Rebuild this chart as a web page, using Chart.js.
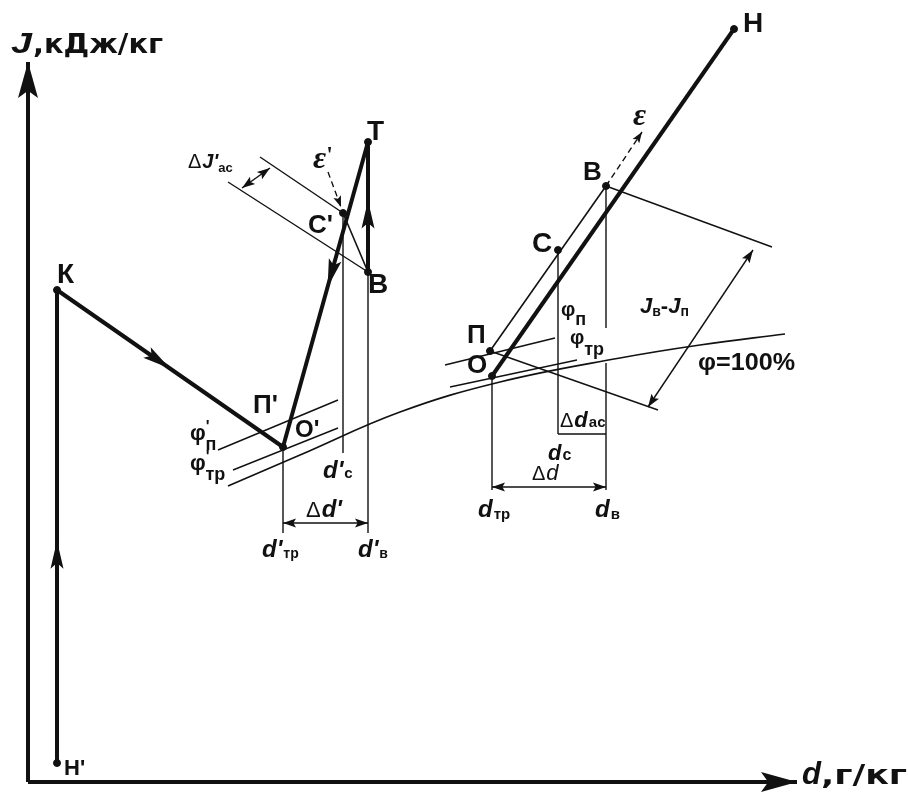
<!DOCTYPE html>
<html>
<head>
<meta charset="utf-8">
<script src="https://cdn.jsdelivr.net/npm/chart.js@4.4.0/dist/chart.umd.min.js"></script>
<style>
html, body { margin: 0; padding: 0; background: #fff; }
#wrap { width: 908px; height: 792px; }
</style>
</head>
<body>
<div id="wrap"><canvas id="chart"></canvas></div>
<script>
// Named state points (schematic units: d to the right, J upwards)
const pointNames = ["Н'", "К", "О'", "Т", "В'", "С'", "О", "П", "С", "В", "Н"];
const pointD = [57, 57, 283, 368, 368, 343, 492, 490, 558, 606, 734];
const pointJ = [29, 502, 345, 650, 520, 579, 416, 441, 542, 606, 763];

// Heavy process lines and where the direction arrow sits (0 = no arrow)
const processFrom = ["Н'", "К", "Т", "В'", "О"];
const processTo = ["К", "О'", "О'", "Т", "Н"];
const processArrowAt = [0.47, 0.5, 0.475, 0.55, 0];

// Thin lines through named points
const chordFrom = ["П", "С'"];
const chordTo = ["В", "В'"];

// Saturation curve phi = 100 %
const phiCurveD = [228, 300, 400, 500, 620, 700, 785];
const phiCurveJ = [306, 337, 380, 410, 434, 447, 458];

// Guide lines [d1, J1, d2, J2]
const phiLines = [[218, 342, 338, 392], [233, 322, 338, 364], [445, 427, 555, 454], [450, 405, 577, 432]];
const enthalpyLines = [[260, 635, 343, 579], [228, 610, 368, 520], [490, 441, 658, 382], [606, 606, 772, 545]];
const dropLines = [[343, 579, 343, 339], [368, 520, 368, 259], [283, 345, 283, 259], [558, 542, 558, 358],
  [558, 358, 606, 358], [606, 606, 606, 464], [606, 429, 606, 302], [492, 416, 492, 302]];
const dimLines = [[283, 269, 368, 269], [492, 305, 606, 305], [270, 624, 242, 604], [753, 542, 648, 385]];
const epsLines = [[328, 620, 341, 585], [606, 606, 642, 660]];
const axisLines = [[28, 10, 28, 730], [28, 10, 797, 10]];

const P = {};
pointNames.forEach((n, i) => P[n] = { x: pointD[i], y: pointJ[i] });

const INK = '#111';
const datasets = [];
function addLine(pts, width, dash, tension) {
    datasets.push({
        data: pts, showLine: true, borderColor: INK, borderWidth: width,
        borderDash: dash || [], pointRadius: 0, tension: tension || 0, fill: false
    });
}
const segPts = s => [{ x: s[0], y: s[1] }, { x: s[2], y: s[3] }];

axisLines.forEach(s => addLine(segPts(s), 4));
processFrom.forEach((f, i) => addLine([P[f], P[processTo[i]]], 4));
chordFrom.forEach((f, i) => addLine([P[f], P[chordTo[i]]], 1.6));
addLine(phiCurveD.map((d, i) => ({ x: d, y: phiCurveJ[i] })), 1.6, null, 0.4);
phiLines.concat(enthalpyLines, dropLines, dimLines).forEach(s => addLine(segPts(s), 1.4));
epsLines.forEach(s => addLine(segPts(s), 1.4, [6, 4]));

datasets.push({
    data: pointNames.map(n => P[n]), showLine: false,
    pointRadius: 3.5, pointBackgroundColor: INK, pointBorderColor: INK
});

// Text labels: [d, J, [[text, font, dx, dy, width], ...]]
const SANS = '"Liberation Sans", Arial, sans-serif';
const WIDE = '"DejaVu Sans", sans-serif';
const SERIF = '"Liberation Serif", "Times New Roman", serif';
const labels = [
    [11, 739, [["J", "italic bold 29px " + SANS, 0, 0, 21], [",кДж/кг", "bold 26px " + WIDE, 1, 0, 130]]],
    [802, 8, [["d", "italic bold 31px " + SANS, 0, 0, 19], [",г/кг", "bold 26px " + WIDE, 0, 0, 86]]],
    [64, 17, [["Н'", "bold 22px " + SANS]]],
    [57, 509, [["К", "bold 28px " + SANS]]],
    [367, 652, [["Т", "bold 28px " + SANS]]],
    [368, 499, [["В", "bold 28px " + SANS]]],
    [308, 559, [["С'", "bold 26px " + SANS]]],
    [313, 624, [["ε", "italic bold 32px " + SERIF], ["'", "bold 24px " + SERIF, 0, -6]]],
    [188, 624, [["Δ", "20px " + SANS], ["J'", "italic bold 20px " + SANS, 1], ["ас", "bold 13px " + SANS, 0, 4]]],
    [253, 379, [["П'", "bold 26px " + SANS]]],
    [295, 355, [["О'", "bold 24px " + SANS]]],
    [190, 352, [["φ", "bold 22px " + SANS], ["'", "bold 16px " + SANS, 0, -8], ["п", "bold 18px " + SANS, -4, 10]]],
    [190, 322, [["φ", "bold 22px " + SANS], ["'", "bold 16px " + SANS, 0, -8], ["тр", "bold 18px " + SANS, -4, 10]]],
    [323, 314, [["d'", "italic bold 24px " + SANS], ["с", "bold 15px " + SANS, 1, 0]]],
    [306, 275, [["Δ", "22px " + SANS], ["d'", "italic bold 24px " + SANS, 1]]],
    [262, 235, [["d'", "italic bold 24px " + SANS], ["тр", "bold 14px " + SANS, 1, 1]]],
    [358, 235, [["d'", "italic bold 24px " + SANS], ["в", "bold 14px " + SANS, 1, 1]]],
    [743, 760, [["Н", "bold 28px " + SANS]]],
    [633, 667, [["ε", "italic bold 32px " + SERIF]]],
    [583, 612, [["В", "bold 26px " + SANS]]],
    [532, 540, [["С", "bold 28px " + SANS]]],
    [467, 449, [["П", "bold 26px " + SANS]]],
    [467, 419, [["О", "bold 26px " + SANS]]],
    [561, 476, [["φ", "bold 20px " + SANS], ["п", "bold 18px " + SANS, 0, 9]]],
    [570, 448, [["φ", "bold 20px " + SANS], ["тр", "bold 18px " + SANS, 0, 11]]],
    [560, 365, [["Δ", "20px " + SANS], ["d", "italic bold 22px " + SANS, 1], ["ас", "bold 15px " + SANS, 1, 0]]],
    [548, 332, [["d", "italic bold 22px " + SANS], ["с", "bold 16px " + SANS, 1, 0]]],
    [532, 312, [["Δ", "20px " + SANS], ["d", "italic 22px " + SANS, 1]]],
    [478, 275, [["d", "italic bold 24px " + SANS], ["тр", "bold 15px " + SANS, 1, 2]]],
    [595, 275, [["d", "italic bold 24px " + SANS], ["в", "bold 15px " + SANS, 1, 2]]],
    [640, 479, [["J", "italic bold 22px " + SANS], ["в", "bold 14px " + SANS, 0, 3], ["-", "bold 22px " + SANS],
        ["J", "italic bold 22px " + SANS], ["п", "bold 14px " + SANS, 0, 3]]],
    [698, 422, [["φ=100%", "bold 24px " + SANS, 0, 0, 97]]]
];

function arrowHead(ctx, x1, y1, x2, y2, len, half) {
    const a = Math.atan2(y2 - y1, x2 - x1);
    ctx.save();
    ctx.translate(x2, y2);
    ctx.rotate(a);
    ctx.beginPath();
    ctx.moveTo(0, 0);
    ctx.lineTo(-len, half);
    ctx.lineTo(-len * 0.8, 0);
    ctx.lineTo(-len, -half);
    ctx.closePath();
    ctx.fill();
    ctx.restore();
}

const decorations = {
    id: 'decorations',
    afterDraw(chart) {
        const ctx = chart.ctx;
        const xs = chart.scales.x, ys = chart.scales.y;
        const px = (d, J) => [xs.getPixelForValue(d), ys.getPixelForValue(J)];
        ctx.save();
        ctx.fillStyle = INK;

        // axis arrows
        axisLines.forEach(s => {
            const [x1, y1] = px(s[0], s[1]), [x2, y2] = px(s[2], s[3]);
            arrowHead(ctx, x1, y1, x2, y2, 36, 10);
        });

        // process direction arrows
        processFrom.forEach((f, i) => {
            const t = processArrowAt[i];
            if (!t) return;
            const [x1, y1] = px(P[f].x, P[f].y), [x2, y2] = px(P[processTo[i]].x, P[processTo[i]].y);
            const mx = x1 + (x2 - x1) * t, my = y1 + (y2 - y1) * t;
            arrowHead(ctx, x1, y1, mx, my, 28, 6.5);
        });

        // dimension arrows (both ends)
        dimLines.forEach(s => {
            const [x1, y1] = px(s[0], s[1]), [x2, y2] = px(s[2], s[3]);
            arrowHead(ctx, x1, y1, x2, y2, 13, 4.5);
            arrowHead(ctx, x2, y2, x1, y1, 13, 4.5);
        });

        // epsilon arrows
        epsLines.forEach(s => {
            const [x1, y1] = px(s[0], s[1]), [x2, y2] = px(s[2], s[3]);
            arrowHead(ctx, x1, y1, x2, y2, 11, 4);
        });

        // labels
        ctx.textBaseline = 'alphabetic';
        ctx.textAlign = 'left';
        labels.forEach(([d, J, parts]) => {
            let [x, y] = px(d, J);
            parts.forEach(([text, font, dx, dy, w]) => {
                ctx.font = font;
                x += dx || 0;
                const m = ctx.measureText(text).width;
                const sx = w ? w / m : 1;
                ctx.save();
                ctx.translate(x, y + (dy || 0));
                ctx.scale(sx, 1);
                ctx.fillText(text, 0, 0);
                ctx.restore();
                x += m * sx;
            });
        });
        ctx.restore();
    }
};

new Chart(document.getElementById('chart'), {
    type: 'scatter',
    data: { datasets: datasets },
    options: {
        responsive: true,
        maintainAspectRatio: false,
        animation: false,
        layout: { padding: 0, autoPadding: false },
        plugins: { legend: { display: false }, tooltip: { enabled: false } },
        scales: {
            x: { type: 'linear', display: false, min: 0, max: 908 },
            y: { type: 'linear', display: false, min: 0, max: 792 }
        }
    },
    plugins: [decorations]
});
</script>
</body>
</html>
